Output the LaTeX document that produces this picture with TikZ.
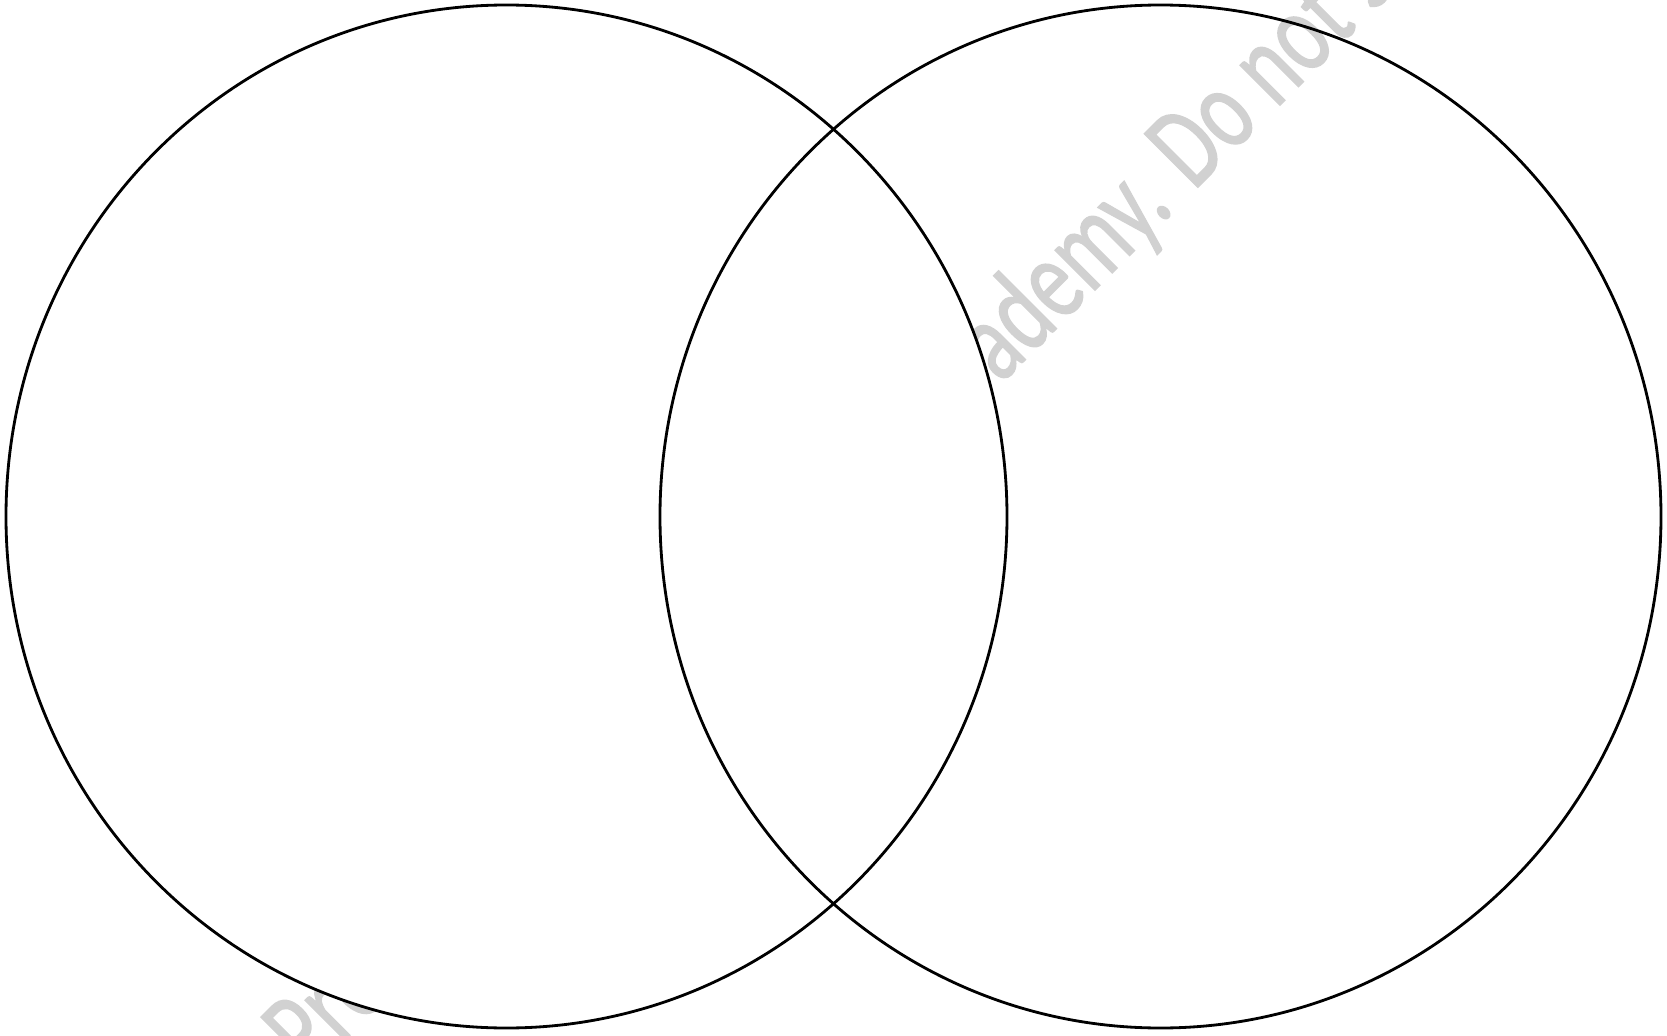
\documentclass[tikz,border=0pt]{standalone}
\usepackage{fontspec}
\usepackage{tikz}
\usetikzlibrary{shapes.geometric}
\newfontfamily\markfont[FakeBold=1.3]{Carlito}

\begin{document}
\begin{tikzpicture}[
    venn/.style={ellipse, draw=black, line width=0.8pt, minimum width=10.01cm, minimum height=10.23cm, inner sep=0pt},
    wmark/.style={anchor=base west, rotate=45, inner sep=0pt, text=black!18, font=\markfont\fontsize{33.5}{33.5}\selectfont}
  ]
    \useasboundingbox (0,0) rectangle (16.67,10.35);
    \clip (0,0) rectangle (16.67,10.35);

    % Watermark
    \node (markA) [wmark] at (3.095,-0.405) {\scalebox{0.72}[1]{Pro}};
    \node (markB) [wmark] at (10.0,6.5) {\scalebox{0.72}[1]{ademy. Do not s}};

    % Circles
    \node (setA) [venn, fill=white] at (5.065,5.185) {};
    \node (setB) [venn] at (11.605,5.185) {};

\end{tikzpicture}
\end{document}
